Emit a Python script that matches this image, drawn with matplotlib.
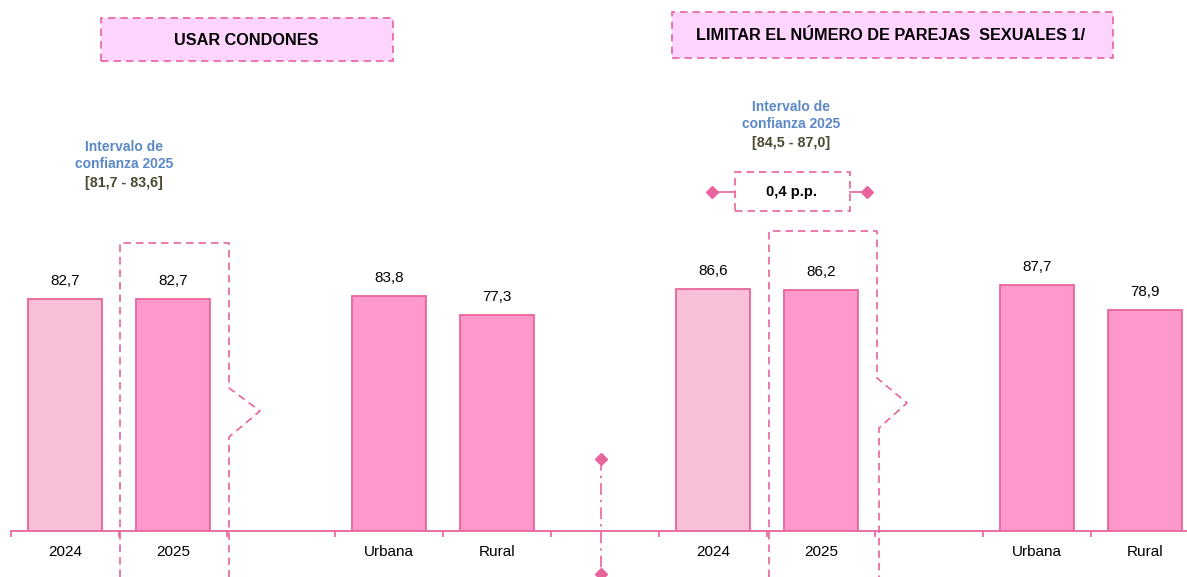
import matplotlib
matplotlib.use("Agg")
import matplotlib.pyplot as plt
from matplotlib import font_manager
from matplotlib.patches import Rectangle
from matplotlib.lines import Line2D

# ---- data -------------------------------------------------------------
group_labels = ["2024", "2025", "Urbana", "Rural"]
condones_values = [82.7, 82.7, 83.8, 77.3]
parejas_values = [86.6, 86.2, 87.7, 78.9]
condones_title = "USAR CONDONES"
parejas_title = "LIMITAR EL NÚMERO DE PAREJAS  SEXUALES 1/"
condones_interval = "[81,7 - 83,6]"
parejas_interval = "[84,5 - 87,0]"
parejas_diff = "0,4 p.p."

# ---- style ------------------------------------------------------------
names = {f.name for f in font_manager.fontManager.ttflist}
NARROW = ["Liberation Sans Narrow", "Liberation Sans", "DejaVu Sans"]
NARROW = [n for n in NARROW if n in names] or ["DejaVu Sans"]
plt.rcParams["font.family"] = NARROW

PINK_EDGE = "#E8649C"
LIGHT = "#F7BFD8"
MAIN = "#FF99CC"
BOX_FILL = "#FFD5FF"
BLUE = "#5B88C6"
OLIVE = "#4D4831"

W, H, DPI = 1187, 577, 100
fig = plt.figure(figsize=(W / DPI, H / DPI), dpi=DPI)

# axes: category 0 centred at px 65, 108 px per category, baseline at px 531
CAT_PX, X0_PX, BASE_PX, UNIT_PX = 108.0, 65.0, 531.0, 2.8
left_px = 11
ax = fig.add_axes([left_px / W, (H - BASE_PX) / H, 1 - left_px / W, BASE_PX / H])
ax.set_xlim((left_px - X0_PX) / CAT_PX, (W - X0_PX) / CAT_PX)
ax.set_ylim(0, BASE_PX / UNIT_PX)


def px(xp, yp):
    """Pixel position (from top-left) to data coordinates."""
    return (xp - X0_PX) / CAT_PX, (BASE_PX - yp) / UNIT_PX


left_pos = [0, 1, 3, 4]
right_pos = [6, 7, 9, 10]
colors = [LIGHT, MAIN, MAIN, MAIN]

for positions, values in ((left_pos, condones_values), (right_pos, parejas_values)):
    ax.bar(positions, values, width=0.68, color=colors, edgecolor=PINK_EDGE,
           linewidth=1.3, zorder=3)
    for p, v in zip(positions, values):
        ax.text(p, v + 18 / UNIT_PX, f"{v:.1f}".replace(".", ","), ha="center",
                va="center", fontsize=11, color="black")

# axis, ticks and labels
for s in ("top", "right", "left"):
    ax.spines[s].set_visible(False)
ax.spines["bottom"].set_color(PINK_EDGE)
ax.spines["bottom"].set_linewidth(1.3)
ax.set_yticks([])
ax.set_xticks(left_pos + right_pos)
ax.set_xticklabels(group_labels + group_labels, fontsize=11)
ax.tick_params(axis="x", which="major", length=0, pad=10)
ax.set_xticks([i - 0.5 for i in range(11)], minor=True)
ax.tick_params(axis="x", which="minor", length=4, color=PINK_EDGE, width=1.2,
               direction="out")

DASH = (0, (4.5, 3))


def dashed(points, **kw):
    xs, ys = zip(*[px(*p) for p in points])
    ax.add_line(Line2D(xs, ys, color=PINK_EDGE, linewidth=1.2, linestyle=DASH,
                       clip_on=False, zorder=4, **kw))


# highlight frames round the 2025 bars, with a break notch on the right
dashed([(120, 577), (120, 243), (229, 243), (229, 388), (260, 411),
        (229, 437), (229, 577)])
dashed([(769, 577), (769, 231), (877, 231), (877, 378), (907, 403),
        (879, 428), (879, 577)])

# separator between the two panels
sx, sy1 = px(601, 459)
_, sy2 = px(601, 574)
ax.add_line(Line2D([sx, sx], [sy1, sy2], color=PINK_EDGE, linewidth=1.2,
                   linestyle=(0, (7, 3, 1.5, 3)), clip_on=False, zorder=4))
ax.plot([sx, sx], [sy1, sy2], linestyle="none", marker="D", markersize=6,
        color=PINK_EDGE, clip_on=False, zorder=5)


def frame_box(x0, y0, x1, y1, fill):
    (dx0, dy0), (dx1, dy1) = px(x0, y1), px(x1, y0)
    ax.add_patch(Rectangle((dx0, dy0), dx1 - dx0, dy1 - dy0, facecolor=fill,
                           edgecolor=PINK_EDGE, linewidth=1.2, linestyle=DASH,
                           clip_on=False, zorder=4))


# panel titles
frame_box(101, 18, 393, 61, BOX_FILL)
ax.text(*px(246, 40), condones_title, ha="center", va="center", fontsize=11.7,
        fontweight="bold", color="black", zorder=5)
frame_box(672, 12, 1113, 58, BOX_FILL)
ax.text(*px(891, 35), parejas_title, ha="center", va="center", fontsize=11.7,
        fontweight="bold", color="black", zorder=5)

# confidence intervals
for cx, ys, interval in ((124, (147, 164, 183), condones_interval),
                         (791, (107, 124, 143), parejas_interval)):
    ax.text(*px(cx, ys[0]), "Intervalo de", ha="center", va="center",
            fontsize=10, fontweight="bold", color=BLUE)
    ax.text(*px(cx, ys[1]), "confianza 2025", ha="center", va="center",
            fontsize=10, fontweight="bold", color=BLUE)
    ax.text(*px(cx, ys[2]), interval, ha="center", va="center",
            fontsize=10.3, fontweight="bold", color=OLIVE)

# difference marker
frame_box(735, 172, 850, 211, "white")
ax.text(*px(792, 192), parejas_diff, ha="center", va="center", fontsize=10.5,
        fontweight="bold", color="black", zorder=5)
for xa, xb in ((712, 735), (850, 867)):
    (a, y), (b, _) = px(xa, 192), px(xb, 192)
    ax.plot([a, b], [y, y], color=PINK_EDGE, linewidth=1.2, clip_on=False, zorder=4)
    ax.plot([a if xa == 712 else b], [y], marker="D", markersize=6,
            color=PINK_EDGE, clip_on=False, zorder=5)

fig.savefig("out.png", dpi=DPI)
